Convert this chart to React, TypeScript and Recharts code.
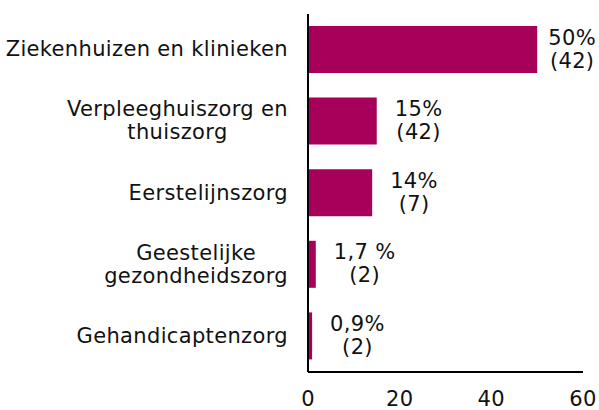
import { BarChart, Bar, XAxis, YAxis, LabelList } from "recharts";

const categories = [
  "Ziekenhuizen en klinieken",
  "Verpleeghuiszorg en\nthuiszorg",
  "Eerstelijnszorg",
  "Geestelijke\ngezondheidszorg",
  "Gehandicaptenzorg",
];
const percentages = [50, 15, 14, 1.7, 0.9];
const pctLabels = ["50%", "15%", "14%", "1,7 %", "0,9%"];
const counts = [42, 42, 7, 2, 2];
const xTicks = [0, 20, 40, 60];

const FONT = "DejaVu Sans, Verdana, sans-serif";
const FONT_SIZE = 21;
const SPACING = 0.35;
const BAR_COLOR = "#A6005B";
const WIDTH = 599;

const data = categories.map((name, i) => ({
  name,
  value: percentages[i],
  label: pctLabels[i],
  count: counts[i],
}));

let ctx: any = null;
function textWidth(s: string) {
  if (!ctx) ctx = document.createElement("canvas").getContext("2d");
  if (!ctx) return s.length * FONT_SIZE * 0.6;
  ctx.font = `${FONT_SIZE}px DejaVu Sans`;
  ctx.letterSpacing = `${SPACING}px`;
  return ctx.measureText(s).width;
}

const LINE = 23;

function CategoryTick(props: any) {
  const { x, y, payload } = props;
  const lines = String(payload.value).split("\n");
  const w = Math.max(...lines.map(textWidth));
  const cx = x - w / 2;
  const first = y + 6.5 - ((lines.length - 1) * LINE) / 2;
  return (
    <text
      textAnchor="middle"
      fontFamily={FONT}
      fontSize={FONT_SIZE}
      letterSpacing={SPACING}
      fill="#111"
    >
      {lines.map((l, i) => (
        <tspan key={i} x={cx} y={first + i * LINE}>
          {l}
        </tspan>
      ))}
    </text>
  );
}

function BarLabel(props: any) {
  const { x, y, width, height, index } = props;
  const lines = [pctLabels[index], `(${counts[index]})`];
  const w = Math.max(...lines.map(textWidth));
  // keep the label inside the picture
  const cx = Math.min(x + width + 18 + w / 2, WIDTH - 3 - w / 2);
  const cy = y + height / 2;
  const first = cy + 6.5 - LINE / 2;
  return (
    <text
      textAnchor="middle"
      fontFamily={FONT}
      fontSize={FONT_SIZE}
      letterSpacing={SPACING}
      fill="#111"
    >
      {lines.map((l, i) => (
        <tspan key={i} x={cx} y={first + i * LINE}>
          {l}
        </tspan>
      ))}
    </text>
  );
}

export default function App() {
  return (
    <div style={{ width: WIDTH, height: 410, background: "#fff" }}>
      <style>{`body{margin:0}`}</style>
      <BarChart
        width={WIDTH}
        height={410}
        data={data}
        layout="vertical"
        margin={{ top: 14, right: 16, bottom: 0, left: 0 }}
      >
        <XAxis
          type="number"
          domain={[0, 60]}
          ticks={xTicks}
          height={38}
          tickLine={false}
          tickSize={0}
          tickMargin={19}
          axisLine={{ stroke: "#000", strokeWidth: 2 }}
          tick={{ fill: "#111", fontSize: FONT_SIZE, fontFamily: FONT, letterSpacing: SPACING }}
        />
        <YAxis
          type="category"
          dataKey="name"
          width={308}
          tickLine={false}
          tickSize={0}
          tickMargin={20}
          axisLine={{ stroke: "#000", strokeWidth: 2 }}
          tick={<CategoryTick />}
        />
        <Bar dataKey="value" fill={BAR_COLOR} barSize={47} isAnimationActive={false}>
          <LabelList dataKey="value" content={<BarLabel />} />
        </Bar>
      </BarChart>
    </div>
  );
}
